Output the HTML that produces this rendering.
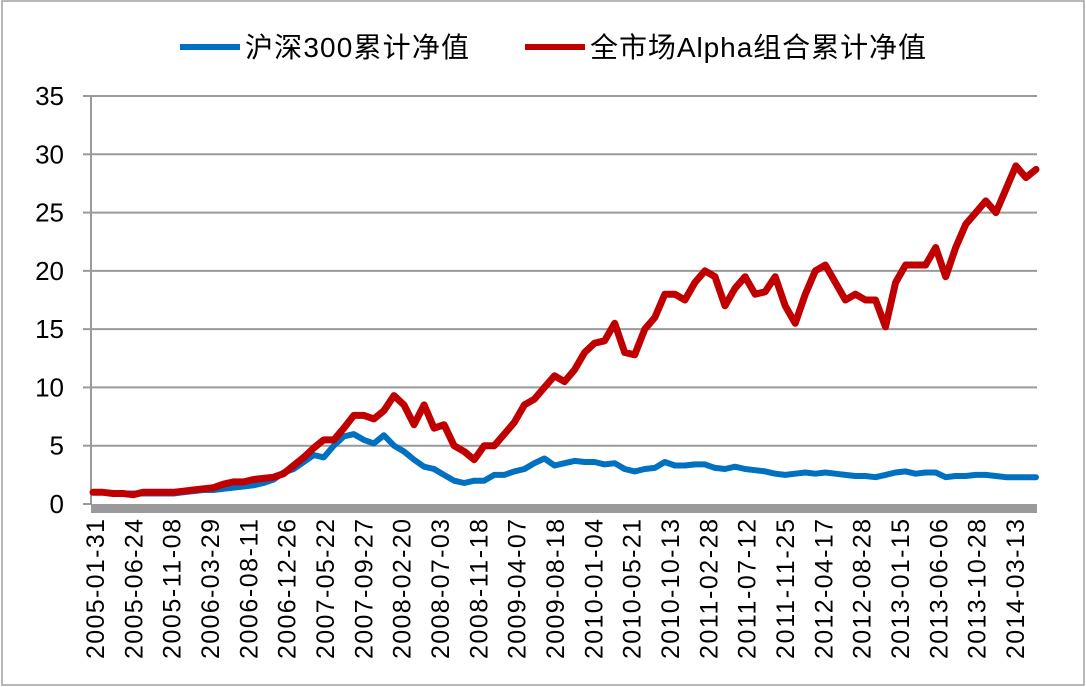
<!DOCTYPE html>
<html><head><meta charset="utf-8"><style>
body{margin:0;background:#fff;}
svg{display:block;font-family:"Liberation Sans","Noto Sans CJK SC",sans-serif;}
</style></head><body>
<svg id="chart" width="1086" height="687" viewBox="0 0 1086 687">
<rect x="2" y="1" width="1082" height="684" fill="#fff" stroke="#a0a0a0" stroke-width="1.5"/>
<g id="legend">
<line x1="180" y1="47" x2="240" y2="47" stroke="#0070c0" stroke-width="6"/>
<text x="245" y="57" font-size="28" textLength="224" fill="#000">沪深300累计净值</text>
<line x1="525" y1="47" x2="585" y2="47" stroke="#c00000" stroke-width="6"/>
<text x="590" y="57" font-size="28" textLength="336" fill="#000">全市场Alpha组合累计净值</text>
</g>
<g id="grid"></g><g id="axes"></g><g id="series"></g>
</svg>
<script>
const yTicks=[0,5,10,15,20,25,30,35];
const xLabels=["2005-01-31","2005-06-24","2005-11-08","2006-03-29","2006-08-11","2006-12-26","2007-05-22","2007-09-27","2008-02-20","2008-07-03","2008-11-18","2009-04-07","2009-08-18","2010-01-04","2010-05-21","2010-10-13","2011-02-28","2011-07-12","2011-11-25","2012-04-17","2012-08-28","2013-01-15","2013-06-06","2013-10-28","2014-03-13"];
const alphaValues=[1.0,1.0,0.9,0.9,0.8,1.0,1.0,1.0,1.0,1.1,1.2,1.3,1.4,1.7,1.9,1.9,2.1,2.2,2.3,2.6,3.3,4.0,4.8,5.5,5.5,6.5,7.6,7.6,7.3,8.0,9.3,8.5,6.8,8.5,6.5,6.8,5.0,4.5,3.8,5.0,5.0,6.0,7.0,8.5,9.0,10.0,11.0,10.5,11.5,13.0,13.8,14.0,15.5,13.0,12.8,15.0,16.0,18.0,18.0,17.5,19.0,20.0,19.5,17.0,18.5,19.5,18.0,18.2,19.5,17.0,15.5,18.0,20.0,20.5,19.0,17.5,18.0,17.5,17.5,15.2,19.0,20.5,20.5,20.5,22.0,19.5,22.0,24.0,25.0,26.0,25.0,27.0,29.0,28.0,28.7];
const hs300Values=[1.0,1.0,0.9,0.9,0.9,0.9,0.9,0.9,0.9,1.0,1.1,1.2,1.2,1.3,1.4,1.5,1.6,1.8,2.1,2.7,3.0,3.6,4.2,4.0,5.0,5.8,6.0,5.5,5.2,5.9,5.0,4.5,3.8,3.2,3.0,2.5,2.0,1.8,2.0,2.0,2.5,2.5,2.8,3.0,3.5,3.9,3.3,3.5,3.7,3.6,3.6,3.4,3.5,3.0,2.8,3.0,3.1,3.6,3.3,3.3,3.4,3.4,3.1,3.0,3.2,3.0,2.9,2.8,2.6,2.5,2.6,2.7,2.6,2.7,2.6,2.5,2.4,2.4,2.3,2.5,2.7,2.8,2.6,2.7,2.7,2.3,2.4,2.4,2.5,2.5,2.4,2.3,2.3,2.3,2.3];
const X0=93,X1=1036,Y0=504,Y1=96,YMAX=35;
const NS="http://www.w3.org/2000/svg";
function yS(v){return Y0-(v/YMAX)*(Y0-Y1);}
function xS(i,n){return X0+i*(X1-X0)/(n-1);}
function mk(t,a,p){const e=document.createElementNS(NS,t);for(const k in a)e.setAttribute(k,a[k]);p.appendChild(e);return e;}
const grid=document.getElementById('grid'),axes=document.getElementById('axes'),ser=document.getElementById('series');
yTicks.forEach(v=>{
  if(v>0){const g=mk('line',{x1:91,x2:1037,y1:yS(v),y2:yS(v),stroke:'#9a9a9a','stroke-width':2},grid);
  
  }
  const tk=mk('line',{x1:83,x2:91,y1:yS(v),y2:yS(v),stroke:'#9a9a9a','stroke-width':2},axes);
  
  
  const t=mk('text',{x:64,y:yS(v)+9,'font-size':26,'text-anchor':'end',fill:'#000'},axes);
  t.textContent=v;
  
  
});
const ya=mk('line',{x1:91,x2:91,y1:Y1,y2:Y0,stroke:'#9a9a9a','stroke-width':2},axes);


const xa=mk('rect',{x:91,y:Y0,width:946,height:9,fill:'#9a9a9a'},axes);


xLabels.forEach((l,i)=>{
  const x=95+i*(1015-95)/(xLabels.length-1);
  const t=mk('text',{x:0,y:0,'font-size':25,'text-anchor':'end',fill:'#000',textLength:140,transform:`translate(${x+9},519) rotate(-90)`},axes);
  t.textContent=l;
  
  
});
function line(vals,color,w,name){
  const d=vals.map((v,i)=>(i?'L':'M')+xS(i,vals.length).toFixed(1)+','+yS(v).toFixed(1)).join('');
  const p=mk('path',{d:d,fill:'none',stroke:color,'stroke-width':w,'stroke-linejoin':'round','stroke-linecap':'round'},ser);
  
  
}
line(hs300Values,'#0070c0',6,'hs300-line');
line(alphaValues,'#c00000',7,'alpha-line');
</script>
</body></html>
